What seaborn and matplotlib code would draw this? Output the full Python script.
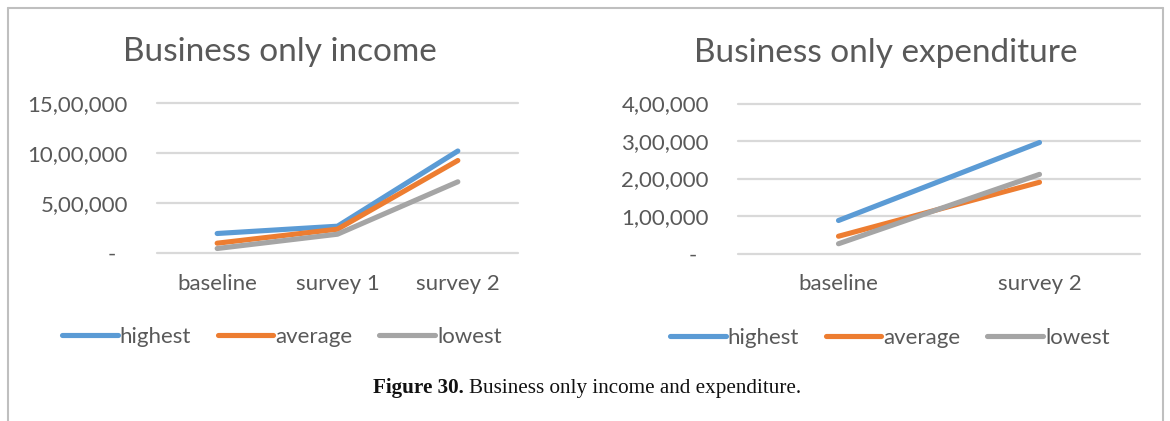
import matplotlib
matplotlib.use("Agg")
import matplotlib.pyplot as plt
from matplotlib.lines import Line2D
from matplotlib.ticker import FuncFormatter
import seaborn as sns
import pandas as pd

# Business-only income (three survey rounds)
income_rounds = ["baseline", "survey 1", "survey 2"]
income_highest = [195000, 268000, 1020000]
income_average = [98000, 238000, 925000]
income_lowest = [45000, 188000, 712000]

# Business-only expenditure (two survey rounds)
expend_rounds = ["baseline", "survey 2"]
expend_highest = [88000, 296000]
expend_average = [46000, 190000]
expend_lowest = [26000, 211000]

series_names = ["highest", "average", "lowest"]
series_colors = ["#5B9BD5", "#ED7D31", "#A5A5A5"]

sns.set_theme(style="white")
plt.rcParams["font.family"] = ["Lato", "DejaVu Sans"]

TEXT = "#595959"
GRID = "#D9D9D9"


def indian_format(v, pos=None):
    v = int(round(v))
    if v == 0:
        return "-  "
    s = str(v)
    last3, rest = s[-3:], s[:-3]
    groups = []
    while len(rest) > 2:
        groups.insert(0, rest[-2:])
        rest = rest[:-2]
    if rest:
        groups.insert(0, rest)
    return ",".join(groups + [last3])


def long_frame(rounds, hi, av, lo):
    rows = []
    for name, vals in zip(series_names, [hi, av, lo]):
        for r, v in zip(rounds, vals):
            rows.append({"round": r, "value": v, "series": name})
    return pd.DataFrame(rows)


fig = plt.figure(figsize=(11.7, 4.21), dpi=100)
W, H = 1170, 421


def px_axes(x0, x1, ytop, ybot):
    return fig.add_axes([x0 / W, 1 - ybot / H, (x1 - x0) / W, (ybot - ytop) / H])


ax1 = px_axes(157, 518, 103, 253)
ax2 = px_axes(738, 1140, 103.5, 253.5)

panels = [
    (ax1, long_frame(income_rounds, income_highest, income_average, income_lowest),
     income_rounds, [0, 500000, 1000000, 1500000], "Business only income", 0.34, 0.346),
    (ax2, long_frame(expend_rounds, expend_highest, expend_average, expend_lowest),
     expend_rounds, [0, 100000, 200000, 300000, 400000], "Business only expenditure", 0.368, 0.378),
]

for ax, df, rounds, yticks, title, title_x, legend_x in panels:
    sns.lineplot(data=df, x="round", y="value", hue="series",
                 hue_order=series_names, palette=series_colors,
                 linewidth=3.7, ax=ax, legend=False, sort=False)
    for ln in ax.get_lines():
        ln.set_solid_capstyle("round")
        ln.set_zorder(3)
    ax.set_xlim(-0.5, len(rounds) - 0.5)
    ax.set_ylim(yticks[0], yticks[-1])
    ax.set_yticks(yticks)
    ax.yaxis.set_major_formatter(FuncFormatter(indian_format))
    ax.set_xlabel("")
    ax.set_ylabel("")
    for s in ax.spines.values():
        s.set_visible(False)
    ax.grid(axis="y", color=GRID, linewidth=1.6, zorder=0)
    ax.grid(axis="x", visible=False)
    ax.tick_params(axis="y", length=0, pad=21, labelsize=16, labelcolor=TEXT)
    ax.tick_params(axis="x", length=0, pad=15, labelsize=16, labelcolor=TEXT)
    for gl in ax.get_ygridlines():
        gl.set_clip_on(False)
    ax.patch.set_alpha(0)

    ax.set_title(title, fontsize=24, color=TEXT, pad=0, x=title_x, y=1.0 + 42 / 150)

    # legend below each chart
    handles = [Line2D([0], [0], color=c, linewidth=3.7, solid_capstyle="round")
               for c in series_colors]
    ax.legend(handles, series_names, loc="center", bbox_to_anchor=(legend_x, -0.56),
              ncol=3, frameon=False, fontsize=16, labelcolor=TEXT,
              handlelength=2.5, handletextpad=0.1, columnspacing=1.2)

# outer frame (left, top, right)
frame_kw = dict(color="#BFBFBF", linewidth=1.5, transform=fig.transFigure, clip_on=False)
fig.add_artist(Line2D([8 / W, 8 / W], [0, 1 - 8 / H], **frame_kw))
fig.add_artist(Line2D([8 / W, 1163 / W], [1 - 8 / H, 1 - 8 / H], **frame_kw))
fig.add_artist(Line2D([1163 / W, 1163 / W], [0, 1 - 8 / H], **frame_kw))

# caption: bold label followed by regular text
cap_y = 1 - 393 / H
fig.canvas.draw()
bold = fig.text(373 / W, cap_y, "Figure 30.", fontsize=15.2, fontweight="bold",
                family=["Liberation Serif"], color="#111111", va="baseline", ha="left")
fig.canvas.draw()
bb = bold.get_window_extent(fig.canvas.get_renderer())
fig.text(bb.x1 / W + 5 / W, cap_y, "Business only income and expenditure.", fontsize=15.2,
         family=["Liberation Serif"], color="#111111", va="baseline", ha="left")

fig.savefig("out.png", dpi=100, facecolor="white")
